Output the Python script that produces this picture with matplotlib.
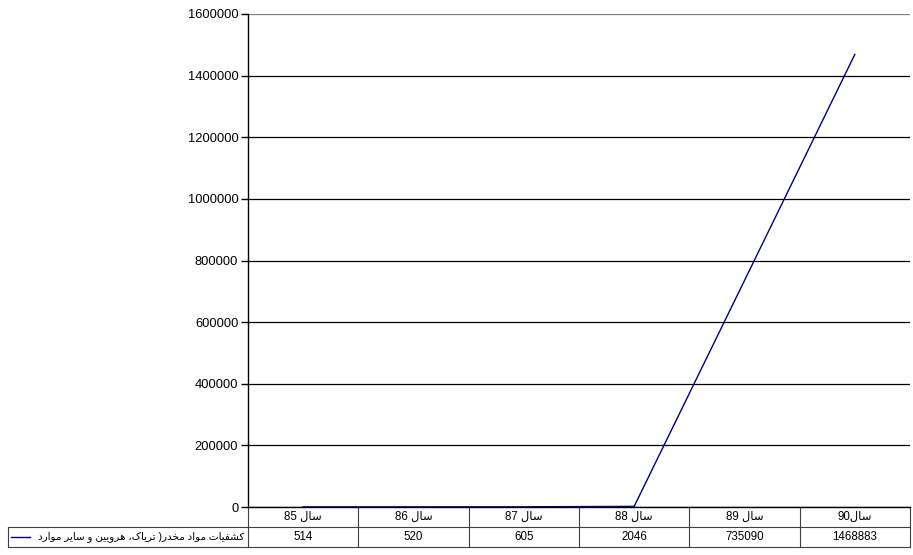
import matplotlib.pyplot as plt
import matplotlib.transforms as mtransforms

# chart data
years = ['سال 85', 'سال 86', 'سال 87', 'سال 88', 'سال 89', 'سال90']
seizures = [514, 520, 605, 2046, 735090, 1468883]
series_name = 'کشفیات مواد مخدر( تریاک، هرویین و سایر موارد'
y_ticks = [0, 200000, 400000, 600000, 800000, 1000000, 1200000, 1400000, 1600000]

# presentation forms (isolated, final, initial, medial) - matplotlib has no arabic shaping
FORMS = {
    'ا': ('\uFE8D', '\uFE8E'), 'د': ('\uFEA9', '\uFEAA'),
    'ر': ('\uFEAD', '\uFEAE'), 'و': ('\uFEED', '\uFEEE'),
    'ت': ('\uFE95', '\uFE96', '\uFE97', '\uFE98'),
    'خ': ('\uFEA5', '\uFEA6', '\uFEA7', '\uFEA8'),
    'س': ('\uFEB1', '\uFEB2', '\uFEB3', '\uFEB4'),
    'ش': ('\uFEB5', '\uFEB6', '\uFEB7', '\uFEB8'),
    'ف': ('\uFED1', '\uFED2', '\uFED3', '\uFED4'),
    'ل': ('\uFEDD', '\uFEDE', '\uFEDF', '\uFEE0'),
    'م': ('\uFEE1', '\uFEE2', '\uFEE3', '\uFEE4'),
    'ن': ('\uFEE5', '\uFEE6', '\uFEE7', '\uFEE8'),
    'ه': ('\uFEE9', '\uFEEA', '\uFEEB', '\uFEEC'),
    'ک': ('\uFB8E', '\uFB8F', '\uFB90', '\uFB91'),
    'ی': ('\uFBFC', '\uFBFD', '\uFBFE', '\uFBFF'),
}


def rtl(text):
    """shape persian letters and return them in visual (left to right) order"""
    out = []
    for i, ch in enumerate(text):
        if ch not in FORMS:
            out.append(ch)
            continue
        prev = text[i - 1] if i > 0 else ''
        nxt = text[i + 1] if i + 1 < len(text) else ''
        join_prev = prev in FORMS and len(FORMS[prev]) == 4
        join_next = len(FORMS[ch]) == 4 and nxt in FORMS
        f = FORMS[ch]
        if join_prev and join_next:
            out.append(f[3])
        elif join_prev:
            out.append(f[1])
        elif join_next:
            out.append(f[2])
        else:
            out.append(f[0])
    s = ''.join(out)[::-1]
    s = s.translate(str.maketrans('()', ')('))
    # digits stay left to right
    res, run = '', ''
    for ch in s:
        if ch.isdigit():
            run += ch
        else:
            res += run[::-1] + ch
            run = ''
    return res + run[::-1]


fam = ['Liberation Sans', 'DejaVu Sans']
plt.rcParams['font.family'] = fam
line_color = '#000080'

fig = plt.figure(figsize=(9.13, 5.55), dpi=100)
ax = fig.add_axes([248 / 913, 1 - 507 / 555, 662 / 913, 493 / 555])

x = list(range(len(years)))
ax.plot(x, seizures, color=line_color, lw=1, zorder=3)

ax.set_xlim(-0.5, len(years) - 0.5)
ax.set_ylim(0, 1600000)
ax.set_yticks(y_ticks)
ax.set_yticklabels([str(v) for v in y_ticks], fontsize=9.3)
ax.set_xticks([])
ax.tick_params(axis='y', direction='out', length=5, width=1, color='black', pad=2)
ax.grid(axis='y', color='black', lw=0.9)
ax.yaxis.get_gridlines()[-1].set_color('#808080')
for side in ['top', 'right']:
    ax.spines[side].set_visible(False)
ax.spines['left'].set_linewidth(1)
ax.spines['bottom'].set_linewidth(1)
ax.set_axisbelow(True)

# data table under the axis
tr = mtransforms.blended_transform_factory(ax.transData, ax.transAxes)
row_h = 20 / 493
px = len(years) / 662  # data units per pixel
left_edge = -0.5 - 240 * px
tcol = '#404040'
for k in range(len(years) + 1):
    ax.plot([-0.5 + k, -0.5 + k], [0, -2 * row_h], color=tcol, lw=0.8,
            transform=tr, clip_on=False)
ax.plot([left_edge, left_edge], [-row_h, -2 * row_h], color=tcol, lw=0.8,
        transform=tr, clip_on=False)
for yy in [-row_h, -2 * row_h]:
    ax.plot([left_edge, len(years) - 0.5], [yy, yy], color=tcol, lw=0.8,
            transform=tr, clip_on=False)

for i, (yr, val) in enumerate(zip(years, seizures)):
    ax.text(i, -0.5 * row_h, rtl(yr), transform=tr, ha='center', va='center',
            fontsize=8.3, family=fam)
    ax.text(i, -1.5 * row_h, str(val), transform=tr, ha='center', va='center',
            fontsize=8.3, family=fam)

# legend key and series name
ax.plot([left_edge + 3 * px, left_edge + 22 * px], [-1.5 * row_h, -1.5 * row_h],
        color=line_color, lw=1, transform=tr, clip_on=False)
ax.text(-0.5 - 4 * px, -1.5 * row_h, rtl(series_name), transform=tr,
        ha='right', va='center', fontsize=7.5, family=fam)

fig.savefig('out.png', dpi=100)
